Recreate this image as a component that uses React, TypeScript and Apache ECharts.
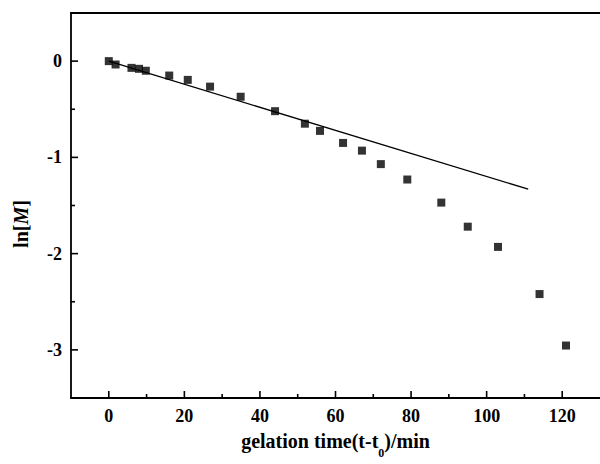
import React, { useEffect, useRef } from "react";
import * as echarts from "echarts";

const timeMin = [0, 1.8, 6, 8, 9.8, 16, 20.9, 26.8, 34.9, 44, 51.9, 55.9, 62, 67, 72, 79, 88, 95, 103, 114, 121];
const lnM = [0, -0.035, -0.07, -0.08, -0.1, -0.15, -0.195, -0.265, -0.37, -0.52, -0.65, -0.725, -0.85, -0.93, -1.07, -1.23, -1.47, -1.72, -1.93, -2.42, -2.955];
const fitX = [0, 111];
const fitY = [0, -1.33];
const xTickLabels = [0, 20, 40, 60, 80, 100, 120];
const xMinorTicks = [10, 30, 50, 70, 90, 110];
const yTickLabels = [-3, -2, -1, 0];
const yMinorTicks = [-2.5, -1.5, -0.5];

const X_MIN = -10;
const X_MAX = 130;
const Y_MIN = -3.5;
const Y_MAX = 0.5;

const FONT = "'Liberation Serif', 'Times New Roman', serif";

export default function App() {
  const ref = useRef<HTMLDivElement>(null);
  useEffect(() => {
    const chart = echarts.init(ref.current!, null, { renderer: "svg" });
    const axisLine = { show: true, onZero: false, lineStyle: { color: "#000", width: 1.8 } };
    const labelStyle = { color: "#000", fontFamily: FONT, fontWeight: "bold", fontSize: 18, margin: 9 };
    // tick marks drawn inward through the axes' scales: [value, axis (0 = x, 1 = y), isMajor]
    const tickData = [
      ...xTickLabels.map((v) => [v, 0, 1]),
      ...xMinorTicks.map((v) => [v, 0, 0]),
      ...yTickLabels.map((v) => [v, 1, 1]),
      ...yMinorTicks.map((v) => [v, 1, 0]),
    ];
    chart.setOption({
      animation: false,
      backgroundColor: "#fff",
      grid: { left: 71, top: 13, right: -2, bottom: 61, show: false },
      graphic: [
        {
          type: "text",
          x: 21,
          y: 224,
          rotation: Math.PI / 2,
          style: {
            text: "ln[{i|M}]",
            fill: "#000",
            font: `bold 20px ${FONT}`,
            align: "center",
            verticalAlign: "middle",
            rich: {
              i: { fontFamily: FONT, fontWeight: "bold", fontStyle: "italic", fontSize: 20, fill: "#000" },
            },
          },
        },
      ],
      xAxis: [
        {
          type: "value",
          min: X_MIN,
          max: X_MAX,
          position: "bottom",
          axisLine,
          splitLine: { show: false },
          axisTick: { show: false },
          axisLabel: { ...labelStyle, customValues: xTickLabels },
          name: "gelation time(t-t{sub|0})/min",
          nameLocation: "middle",
          nameGap: 33,
          nameTextStyle: {
            color: "#000",
            fontFamily: FONT,
            fontWeight: "bold",
            fontSize: 20,
            rich: {
              sub: {
                fontFamily: FONT,
                fontWeight: "bold",
                fontSize: 12,
                color: "#000",
                verticalAlign: "bottom",
                padding: [0, 0, -8, 0],
              },
            },
          },
        },
        {
          type: "value",
          min: X_MIN,
          max: X_MAX,
          position: "top",
          axisLine,
          splitLine: { show: false },
          axisTick: { show: false },
          axisLabel: { show: false },
        },
      ],
      yAxis: {
        type: "value",
        min: Y_MIN,
        max: Y_MAX,
        position: "left",
        axisLine,
        splitLine: { show: false },
        axisTick: { show: false },
        axisLabel: { ...labelStyle, customValues: yTickLabels },
      },
      series: [
        {
          type: "custom",
          silent: true,
          data: tickData,
          renderItem: (params: any, api: any) => {
            const v = api.value(0);
            const isY = api.value(1) === 1;
            const len = api.value(2) === 1 ? 7 : 4;
            if (!isY) {
              const p = api.coord([v, Y_MIN]);
              return {
                type: "line",
                shape: { x1: p[0], y1: p[1], x2: p[0], y2: p[1] - len },
                style: { stroke: "#000", lineWidth: 1.6 },
              };
            }
            const p = api.coord([X_MIN, v]);
            return {
              type: "line",
              shape: { x1: p[0], y1: p[1], x2: p[0] + len, y2: p[1] },
              style: { stroke: "#000", lineWidth: 1.6 },
            };
          },
          z: 1,
        },
        {
          type: "line",
          data: fitX.map((x, i) => [x, fitY[i]]),
          symbol: "none",
          lineStyle: { color: "#000", width: 1.3 },
          z: 2,
        },
        {
          type: "scatter",
          data: timeMin.map((x, i) => [x, lnM[i]]),
          symbol: "rect",
          symbolSize: 8,
          itemStyle: { color: "#000" },
          z: 3,
        },
      ],
    });
    return () => chart.dispose();
  }, []);
  return <div ref={ref} style={{ position: "fixed", left: 0, top: 0, width: 600, height: 464 }} />;
}
